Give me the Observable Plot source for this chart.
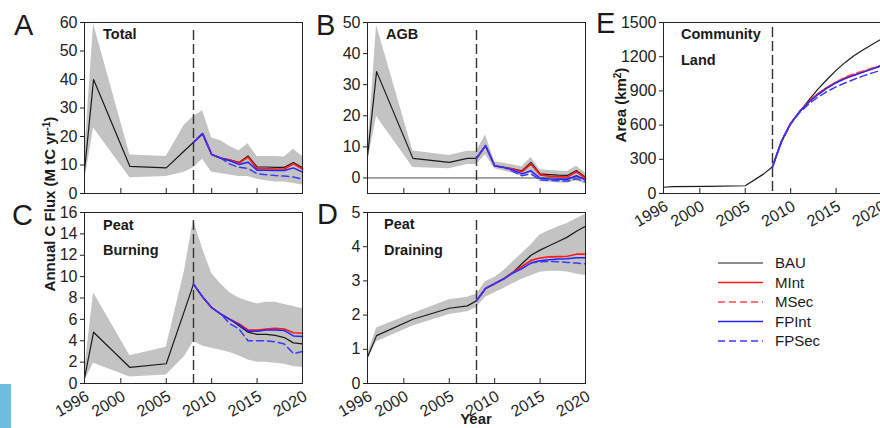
<!DOCTYPE html>
<html>
<head>
<meta charset="utf-8">
<script src="https://cdn.jsdelivr.net/npm/d3@7"></script>
<script src="https://cdn.jsdelivr.net/npm/@observablehq/plot@0.6"></script>
<style>
  html, body { margin: 0; padding: 0; background: #fff; }
  #wrap { position: relative; width: 880px; height: 428px; overflow: hidden; background: #fff;
          font-family: "Liberation Sans", Arial, Helvetica, sans-serif; color: #222; }
  .pnl { position: absolute; }
  #overlay { position: absolute; left: 0; top: 0; pointer-events: none; }
  #chip { position: absolute; left: 0; top: 384px; width: 11px; height: 44px; background: #6cbfdc; }
</style>
</head>
<body>
<div id="wrap">
  <div id="chip"></div>
</div>
<script>
// ---------------- data ----------------
const years = [1996, 1997, 2001, 2005, 2007, 2008, 2009, 2010, 2011, 2012, 2013, 2014, 2015, 2016, 2017, 2018, 2019, 2020];
const scenYears = [2008, 2009, 2010, 2011, 2012, 2013, 2014, 2015, 2016, 2017, 2018, 2019, 2020];
const interventionYear = 2008;
const scenarioNames = ["BAU", "MInt", "MSec", "FPInt", "FPSec"];

// A: Total
const totalBAU   = [8, 40, 9.5, 9, 15, 18, 21, 13.7, 12.4, 11.8, 10.9, 13.2, 9.3, 9.3, 9.2, 9.2, 10.9, 9.0];
const totalMInt  = [18, 21, 13.7, 12.4, 11.7, 10.7, 12.7, 8.7, 8.7, 8.6, 8.6, 10.4, 8.6];
const totalFPInt = [18, 21, 13.7, 12.4, 11.5, 10.2, 11.0, 8.2, 8.2, 8.1, 8.1, 9.0, 7.5];
const totalFPSec = [18, 21, 13.7, 12.4, 10.3, 9.2, 8.8, 6.9, 6.6, 6.3, 6.1, 5.8, 5.0];
const totalHi    = [13, 59.5, 13.5, 13, 24, 27, 29, 19.5, 18.5, 16.5, 15, 17.5, 13, 13, 13, 12.8, 15.5, 13];
const totalLo    = [4, 23, 5.5, 6, 7.5, 9, 12, 7.5, 7, 6.5, 6, 6, 5, 4.5, 4, 4, 3.5, 3];

// B: AGB
const agbBAU   = [7, 34.2, 6.3, 5.0, 6.3, 6.3, 10.4, 3.9, 3.4, 2.9, 2.3, 5.0, 1.3, 1.1, 0.9, 0.8, 2.4, 0.2];
const agbMInt  = [6.3, 10.4, 3.9, 3.4, 2.9, 2.0, 4.5, 1.0, 0.6, 0.4, 0.3, 2.0, -0.1];
const agbFPInt = [6.3, 10.4, 3.9, 3.4, 2.6, 1.3, 2.3, -0.1, -0.3, -0.4, -0.4, 0.7, -0.6];
const agbFPSec = [6.3, 10.4, 3.9, 3.4, 2.1, 0.7, 1.3, -0.6, -0.8, -0.9, -1.0, -0.3, -1.2];
const agbHi    = [8, 49, 8.7, 7.2, 8.6, 8.6, 13.8, 5.2, 4.7, 4.2, 3.6, 6.6, 2.6, 2.4, 2.2, 2.1, 3.8, 1.6];
const agbLo    = [5, 19.8, 3.4, 3.0, 4.3, 4.3, 7.5, 3.0, 2.3, 1.5, 0.5, 1.5, -1.2, -1.4, -1.6, -1.7, -0.9, -2.0];

// C: Peat burning
const burnBAU   = [0.5, 4.8, 1.5, 1.85, 6.8, 9.3, 8.1, 7.1, 6.5, 6.0, 5.4, 4.8, 4.6, 4.6, 4.5, 4.3, 3.8, 3.7];
const burnMInt  = [9.3, 8.1, 7.1, 6.5, 6.0, 5.6, 5.0, 5.0, 5.1, 5.15, 5.1, 4.75, 4.7];
const burnFPInt = [9.3, 8.1, 7.1, 6.5, 6.0, 5.5, 4.9, 4.9, 5.0, 5.0, 4.95, 4.45, 4.4];
const burnFPSec = [9.3, 8.1, 7.1, 6.5, 5.6, 5.1, 4.0, 4.0, 4.0, 3.9, 3.7, 2.8, 3.0];
const burnHi    = [1.2, 8.5, 2.6, 3.4, 10.5, 15.3, 12.6, 10.3, 9.3, 8.5, 8.0, 7.7, 7.45, 7.6, 7.6, 7.4, 7.2, 7.0];
const burnLo    = [0.2, 1.9, 0.6, 0.8, 2.5, 3.9, 3.5, 3.3, 3.1, 2.9, 2.6, 2.2, 2.0, 2.0, 1.9, 1.8, 1.6, 1.5];

// D: Peat draining
const drainBAU   = [0.77, 1.4, 1.88, 2.2, 2.27, 2.42, 2.78, 2.92, 3.06, 3.25, 3.5, 3.75, 3.9, 4.03, 4.15, 4.28, 4.45, 4.6];
const drainMInt  = [2.42, 2.78, 2.92, 3.06, 3.25, 3.42, 3.6, 3.67, 3.7, 3.71, 3.72, 3.78, 3.78];
const drainFPInt = [2.42, 2.78, 2.92, 3.06, 3.23, 3.36, 3.53, 3.59, 3.62, 3.64, 3.65, 3.68, 3.68];
const drainFPSec = [2.42, 2.78, 2.92, 3.06, 3.23, 3.36, 3.52, 3.56, 3.57, 3.56, 3.54, 3.52, 3.5];
const drainHi    = [0.85, 1.62, 2.05, 2.45, 2.52, 2.62, 2.98, 3.1, 3.3, 3.55, 3.8, 4.05, 4.35, 4.47, 4.58, 4.68, 4.82, 4.95];
const drainLo    = [0.7, 1.22, 1.68, 2.02, 2.1, 2.22, 2.52, 2.65, 2.78, 2.92, 3.05, 3.15, 3.25, 3.28, 3.28, 3.26, 3.2, 3.16];

// E: Community land area (km2)
const landBAU   = [55, 60, 62, 68, 170, 235, 460, 615, 720, 820, 915, 1000, 1080, 1150, 1210, 1260, 1310, 1355];
const landMInt  = [235, 460, 615, 720, 805, 875, 930, 975, 1012, 1040, 1068, 1095, 1122];
const landMSec  = [235, 460, 612, 718, 805, 870, 925, 975, 1022, 1050, 1075, 1100, 1120];
const landFPInt = [235, 460, 615, 720, 800, 868, 925, 972, 1008, 1038, 1065, 1093, 1122];
const landFPSec = [235, 455, 610, 712, 785, 845, 895, 935, 970, 1002, 1032, 1058, 1082];

// tick values
const xTickMarks = [2000, 2005, 2010, 2015];
const xTickLabels = [1996, 2000, 2005, 2010, 2015, 2020];
const totalTicks = [0, 10, 20, 30, 40, 50, 60];
const agbTicks = [0, 10, 20, 30, 40, 50];
const burnTicks = [0, 2, 4, 6, 8, 10, 12, 14, 16];
const drainTicks = [0, 1, 2, 3, 4, 5];
const landTicks = [0, 300, 600, 900, 1200, 1500];

// ---------------- styling ----------------
const FONT = '"Liberation Sans", Arial, Helvetica, sans-serif';
const styles = {
  BAU:   {stroke: "#1a1a1a", strokeWidth: 1.2},
  MInt:  {stroke: "#ff1a1a", strokeWidth: 1.7},
  MSec:  {stroke: "#ff4a4a", strokeWidth: 1.7, strokeDasharray: "7,4"},
  FPInt: {stroke: "#2424ff", strokeWidth: 1.5},
  FPSec: {stroke: "#3a3aff", strokeWidth: 1.5, strokeDasharray: "7,4"}
};

const rows = (xs, ys) => xs.map((x, i) => ({x, y: ys[i]}));
const bandRows = (xs, lo, hi) => xs.map((x, i) => ({x, lo: lo[i], hi: hi[i]}));
const plain = d => String(d);

function panel(cfg) {
  const marks = [];
  if (cfg.band) marks.push(Plot.areaY(cfg.band, {x: "x", y1: "lo", y2: "hi", fill: "#c3c3c3"}));
  if (cfg.zero) marks.push(Plot.ruleY([0], {stroke: "#222", strokeWidth: 0.8}));
  marks.push(Plot.ruleX([interventionYear], {stroke: "#333", strokeWidth: 1.4, strokeDasharray: "10,4", insetTop: cfg.dashInset}));
  for (const name of scenarioNames) {
    if (cfg.series[name]) marks.push(Plot.line(cfg.series[name], {x: "x", y: "y", ...styles[name]}));
  }
  marks.push(Plot.frame({stroke: "#222", strokeWidth: 1}));
  marks.push(Plot.axisY({ticks: cfg.yTicks, tickSize: 4, tickPadding: 3, label: null, fontSize: 16, tickFormat: plain}));
  marks.push(Plot.axisX({ticks: xTickMarks, tickSize: -5, tickFormat: () => "", label: null}));
  if (cfg.xLabels) marks.push(Plot.axisX({ticks: xTickLabels, tickSize: 0, tickPadding: 6, rotate: -30, textAnchor: "end", label: null, fontSize: 16, tickFormat: plain}));
  const svg = Plot.plot({
    width: cfg.width, height: cfg.height,
    marginLeft: cfg.mL, marginRight: cfg.mR, marginTop: cfg.mT, marginBottom: cfg.mB,
    x: {domain: [1996, 2020]},
    y: {domain: cfg.yDomain},
    style: {fontFamily: FONT, fontSize: "16px", color: "#222", background: "transparent", overflow: "visible"},
    marks
  });
  svg.classList.add("pnl");
  svg.style.left = cfg.left + "px";
  svg.style.top = cfg.top + "px";
  document.getElementById("wrap").appendChild(svg);
}

panel({left: 0, top: 0, width: 320, height: 205, mL: 84, mR: 18, mT: 22, mB: 12,
  yDomain: [0, 60], yTicks: totalTicks, dashInset: 8,
  band: bandRows(years, totalLo, totalHi),
  series: {BAU: rows(years, totalBAU), MInt: rows(scenYears, totalMInt), FPInt: rows(scenYears, totalFPInt), FPSec: rows(scenYears, totalFPSec)}});

panel({left: 290, top: 0, width: 310, height: 205, mL: 77, mR: 15, mT: 22, mB: 12,
  yDomain: [-5, 50], yTicks: agbTicks, dashInset: 8, zero: true,
  band: bandRows(years, agbLo, agbHi),
  series: {BAU: rows(years, agbBAU), MInt: rows(scenYears, agbMInt), FPInt: rows(scenYears, agbFPInt), FPSec: rows(scenYears, agbFPSec)}});

panel({left: 0, top: 190, width: 320, height: 238, mL: 84, mR: 18, mT: 22, mB: 45,
  yDomain: [0, 16], yTicks: burnTicks, dashInset: 8, xLabels: true,
  band: bandRows(years, burnLo, burnHi),
  series: {BAU: rows(years, burnBAU), MInt: rows(scenYears, burnMInt), FPInt: rows(scenYears, burnFPInt), FPSec: rows(scenYears, burnFPSec)}});

panel({left: 290, top: 190, width: 310, height: 238, mL: 77, mR: 15, mT: 22, mB: 45,
  yDomain: [0, 5], yTicks: drainTicks, dashInset: 8, xLabels: true,
  band: bandRows(years, drainLo, drainHi),
  series: {BAU: rows(years, drainBAU), MInt: rows(scenYears, drainMInt), FPInt: rows(scenYears, drainFPInt), FPSec: rows(scenYears, drainFPSec)}});

panel({left: 590, top: 0, width: 300, height: 240, mL: 73, mR: 9, mT: 22, mB: 47,
  yDomain: [0, 1500], yTicks: landTicks, dashInset: 5, xLabels: true,
  series: {BAU: rows(years, landBAU), MInt: rows(scenYears, landMInt), MSec: rows(scenYears, landMSec), FPInt: rows(scenYears, landFPInt), FPSec: rows(scenYears, landFPSec)}});

// ---------------- overlay text & legend ----------------
const NS = "http://www.w3.org/2000/svg";
const ov = document.createElementNS(NS, "svg");
ov.setAttribute("id", "overlay");
ov.setAttribute("width", 880);
ov.setAttribute("height", 428);
ov.setAttribute("font-family", FONT);
document.getElementById("wrap").appendChild(ov);

function txt(x, y, s, attrs = {}) {
  const t = document.createElementNS(NS, "text");
  t.setAttribute("x", x); t.setAttribute("y", y);
  t.setAttribute("fill", "#1a1a1a");
  for (const k in attrs) t.setAttribute(k, attrs[k]);
  if (Array.isArray(s)) {
    for (const part of s) {
      const sp = document.createElementNS(NS, "tspan");
      sp.textContent = part.t;
      if (part.sup) { sp.setAttribute("baseline-shift", "super"); sp.setAttribute("font-size", "10"); }
      t.appendChild(sp);
    }
  } else t.textContent = s;
  ov.appendChild(t);
  return t;
}

const letters = [["A", 14, 35], ["B", 316, 35], ["C", 12, 225], ["D", 317, 224], ["E", 596, 33]];
for (const [l, x, y] of letters) txt(x, y, l, {"font-size": 29});

const panelTitles = [["Total", 103, 39], ["AGB", 386, 39], ["Peat", 103, 230], ["Burning", 103, 255],
  ["Peat", 384, 229], ["Draining", 384, 255], ["Community", 681, 39], ["Land", 681, 65]];
for (const [s, x, y] of panelTitles) txt(x, y, s, {"font-size": 14.5, "font-weight": "bold"});

txt(0, 0, [{t: "Annual C Flux (M tC yr"}, {t: "-1", sup: true}, {t: ")"}],
  {"font-size": 15, "font-weight": "bold", "text-anchor": "middle", transform: "translate(55,204) rotate(-90)"});
txt(0, 0, [{t: "Area (km"}, {t: "2", sup: true}, {t: ")"}],
  {"font-size": 15, "font-weight": "bold", "text-anchor": "middle", transform: "translate(626,105) rotate(-90)"});
txt(476, 424, "Year", {"font-size": 15, "font-weight": "bold", "text-anchor": "middle"});

// legend
const legendY = [263, 282.5, 302, 321.5, 341];
scenarioNames.forEach((name, i) => {
  const ln = document.createElementNS(NS, "line");
  ln.setAttribute("x1", 718); ln.setAttribute("x2", 763);
  ln.setAttribute("y1", legendY[i]); ln.setAttribute("y2", legendY[i]);
  ln.setAttribute("stroke", styles[name].stroke);
  ln.setAttribute("stroke-width", styles[name].strokeWidth);
  if (styles[name].strokeDasharray) ln.setAttribute("stroke-dasharray", styles[name].strokeDasharray);
  ov.appendChild(ln);
  txt(775, legendY[i] + 5, name, {"font-size": 15});
});
</script>
</body>
</html>
